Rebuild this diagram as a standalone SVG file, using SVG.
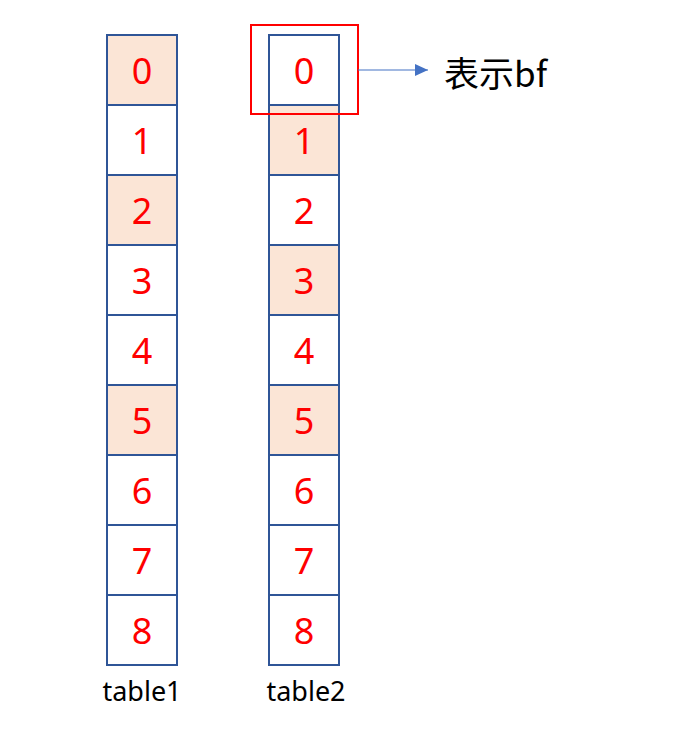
<svg xmlns="http://www.w3.org/2000/svg" width="684" height="751" viewBox="0 0 684 751">
<style>
.c{stroke:#2F5597;stroke-width:2;fill:#FFFFFF}
.h{fill:#FBE5D6}
.d{font-family:"Noto Sans","DejaVu Sans",sans-serif;font-size:36px;fill:#FF0000;text-anchor:middle}
.l{font-family:"Noto Sans","DejaVu Sans",sans-serif;font-size:27px;fill:#000;text-anchor:middle}
</style>
<defs>
<marker id="ah" markerWidth="13" markerHeight="12" refX="13" refY="6" orient="auto" markerUnits="userSpaceOnUse">
<path d="M0,0 L13,6 L0,12 Z" fill="#4472C4"/>
</marker>
</defs>
<rect width="684" height="751" fill="#FFFFFF"/>
<g id="table1">
<rect class="c h" x="107" y="35" width="70" height="70"/>
<rect class="c" x="107" y="105" width="70" height="70"/>
<rect class="c h" x="107" y="175" width="70" height="70"/>
<rect class="c" x="107" y="245" width="70" height="70"/>
<rect class="c" x="107" y="315" width="70" height="70"/>
<rect class="c h" x="107" y="385" width="70" height="70"/>
<rect class="c" x="107" y="455" width="70" height="70"/>
<rect class="c" x="107" y="525" width="70" height="70"/>
<rect class="c" x="107" y="595" width="70" height="70"/>
<text class="d" x="142" y="84">0</text>
<text class="d" x="142" y="154">1</text>
<text class="d" x="142" y="224">2</text>
<text class="d" x="142" y="294">3</text>
<text class="d" x="142" y="364">4</text>
<text class="d" x="142" y="434">5</text>
<text class="d" x="142" y="504">6</text>
<text class="d" x="142" y="574">7</text>
<text class="d" x="142" y="644">8</text>
<text class="l" x="142" y="701">table1</text>
</g>
<g id="table2">
<rect class="c" x="269" y="35" width="70" height="70"/>
<rect class="c h" x="269" y="105" width="70" height="70"/>
<rect class="c" x="269" y="175" width="70" height="70"/>
<rect class="c h" x="269" y="245" width="70" height="70"/>
<rect class="c" x="269" y="315" width="70" height="70"/>
<rect class="c h" x="269" y="385" width="70" height="70"/>
<rect class="c" x="269" y="455" width="70" height="70"/>
<rect class="c" x="269" y="525" width="70" height="70"/>
<rect class="c" x="269" y="595" width="70" height="70"/>
<text class="d" x="304" y="84">0</text>
<text class="d" x="304" y="154">1</text>
<text class="d" x="304" y="224">2</text>
<text class="d" x="304" y="294">3</text>
<text class="d" x="304" y="364">4</text>
<text class="d" x="304" y="434">5</text>
<text class="d" x="304" y="504">6</text>
<text class="d" x="304" y="574">7</text>
<text class="d" x="304" y="644">8</text>
<text class="l" x="306" y="701">table2</text>
</g>
<g id="highlight">
<rect x="251" y="25" width="107" height="89" fill="none" stroke="#FF0000" stroke-width="2"/>
</g>
<g id="connectors">
<line x1="358" y1="70" x2="428" y2="70" stroke="#4472C4" stroke-width="1.2" marker-end="url(#ah)"/>
</g>
<g id="label">
<text x="444" y="87" font-family="'Noto Sans CJK SC','Noto Sans',sans-serif" font-size="35" fill="#000">表示bf</text>
</g>
</svg>
